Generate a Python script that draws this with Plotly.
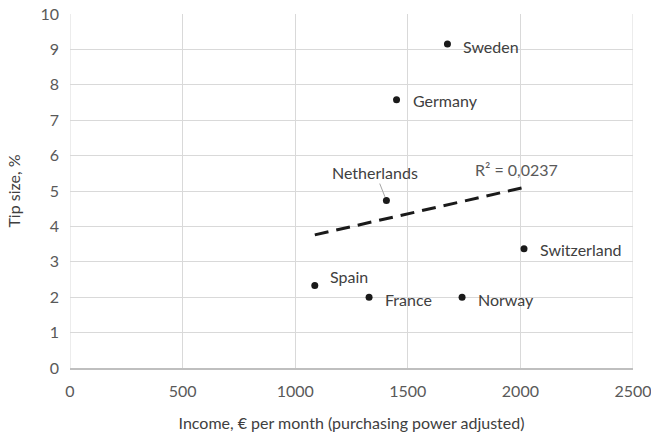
import plotly.graph_objects as go

countries = ["Sweden", "Germany", "Netherlands", "Switzerland", "Spain", "France", "Norway"]
income = [1676, 1450, 1405, 2016, 1087, 1328, 1741]
tip = [9.15, 7.58, 4.73, 3.37, 2.33, 2.0, 2.0]

trend_x = [1087, 2016]
trend_y = [3.76, 5.10]
r2_text = "R² = 0,0237"

FONT = "Lato"
TXT = "#404040"
TICK = "#595959"
FS = 16

fig = go.Figure()
fig.add_trace(go.Scatter(x=trend_x, y=trend_y, mode="lines",
                         line=dict(color="#1a1a1a", width=3, dash="14px,8px"),
                         hoverinfo="skip", showlegend=False))
fig.add_trace(go.Scatter(x=income, y=tip, mode="markers",
                         marker=dict(color="#1a1a1a", size=7),
                         text=countries, showlegend=False))

offsets = {
    "Sweden": (14, -2),
    "Germany": (14, -1),
    "Switzerland": (14, -1),
    "France": (14, -2),
    "Norway": (14, -2),
    "Spain": (13, 9),
}
for c, x, y in zip(countries, income, tip):
    if c == "Netherlands":
        fig.add_annotation(x=x, y=y, text=c, showarrow=True, arrowhead=0,
                           arrowwidth=1, arrowcolor="#a6a6a6", ax=-11, ay=-28,
                           standoff=4, font=dict(family=FONT, size=FS, color=TXT))
    else:
        dx, dy = offsets[c]
        fig.add_annotation(x=x, y=y, text=c, showarrow=False, xanchor="left",
                           xshift=dx, yshift=dy,
                           font=dict(family=FONT, size=FS, color=TXT))

fig.add_annotation(x=trend_x[1], y=trend_y[1], text=r2_text, showarrow=False,
                   xanchor="center", yanchor="bottom", xshift=-8, yshift=6,
                   font=dict(family=FONT, size=FS, color=TICK))

fig.update_layout(
    width=651, height=436,
    margin=dict(l=70, r=18, t=14, b=68),
    paper_bgcolor="white", plot_bgcolor="white",
    font=dict(family=FONT, size=FS, color=TICK),
    xaxis=dict(range=[0, 2500], dtick=500, tick0=0, showgrid=True,
               gridcolor="#d9d9d9", gridwidth=1, zeroline=False,
               showline=True, linecolor="#bfbfbf", linewidth=2,
               ticks="", ticklabelstandoff=8, automargin=False,
               ticklabeloverflow="allow",
               title=dict(text="Income, € per month (purchasing power adjusted)",
                          font=dict(family=FONT, size=FS, color=TXT), standoff=19)),
    yaxis=dict(range=[0, 10], dtick=1, tick0=0, showgrid=True,
               gridcolor="#d9d9d9", gridwidth=1, zeroline=False,
               showline=False, ticks="", ticklabelstandoff=10, automargin=False,
               ticklabeloverflow="allow",
               title=dict(text="Tip size, %",
                          font=dict(family=FONT, size=FS, color=TXT), standoff=15)),
)
for xv in (0, 2500):
    fig.add_shape(type="line", xref="x", yref="paper", x0=xv, x1=xv, y0=0, y1=1,
                  line=dict(color="#d9d9d9", width=1), layer="below")

fig.write_html("out.html", config={"displayModeBar": False},
               post_script="document.body.style.margin='0';document.body.style.overflow='hidden';")
